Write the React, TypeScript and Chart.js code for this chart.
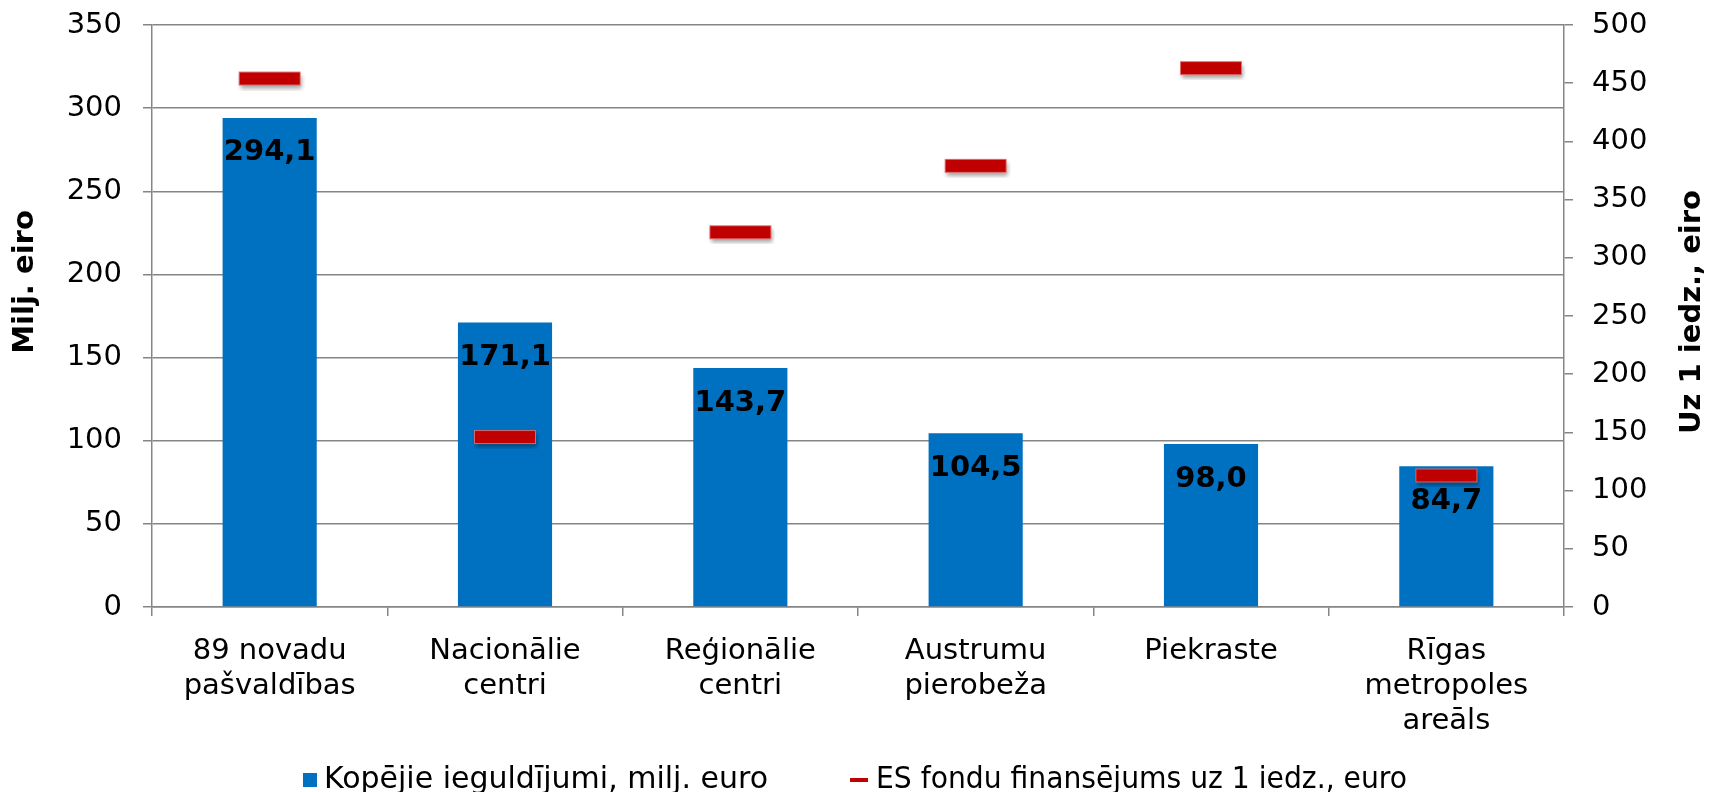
import React, { useEffect, useRef } from 'react';
import { Chart, registerables } from 'chart.js';

Chart.register(...registerables);

const categories: string[][] = [
  ['89 novadu', 'pašvaldības'],
  ['Nacionālie', 'centri'],
  ['Reģionālie', 'centri'],
  ['Austrumu', 'pierobeža'],
  ['Piekraste'],
  ['Rīgas', 'metropoles', 'areāls'],
];
const investments: number[] = [294.1, 171.1, 143.7, 104.5, 98.0, 84.7];
const perCapita: number[] = [454, 146, 322, 379, 463, 113];
const seriesLabels: string[] = ['Kopējie ieguldījumi, milj. euro', 'ES fondu finansējums uz 1 iedz., euro'];
const axisTitles: string[] = ['Milj. eiro', 'Uz 1 iedz., eiro'];
const leftAxis = { min: 0, max: 350, step: 50 };
const rightAxis = { min: 0, max: 500, step: 50 };

const FONT = "'DejaVu Sans', Verdana, sans-serif";
const BLUE = '#0070C0';
const RED = '#C00000';
const GRID = '#858585';

function makeMarker(): HTMLCanvasElement {
  const c = document.createElement('canvas');
  c.width = 70;
  c.height = 24;
  const ctx = c.getContext('2d')!;
  ctx.save();
  ctx.shadowColor = 'rgba(0,0,0,0.35)';
  ctx.shadowBlur = 4;
  ctx.shadowOffsetX = 1;
  ctx.shadowOffsetY = 3;
  ctx.fillStyle = RED;
  ctx.fillRect(4.5, 5.5, 61, 13);
  ctx.restore();
  ctx.strokeStyle = 'rgba(225,110,110,0.9)';
  ctx.lineWidth = 1;
  ctx.strokeRect(4.5, 5.5, 61, 13);
  return c;
}

const fmt = (v: number) => v.toFixed(1).replace('.', ',');

const barLabelPlugin = {
  id: 'barLabels',
  afterDatasetsDraw(chart: any) {
    const ctx = chart.ctx;
    const meta = chart.getDatasetMeta(0);
    ctx.save();
    ctx.font = `bold 29px ${FONT}`;
    ctx.fillStyle = '#000';
    ctx.textAlign = 'center';
    ctx.textBaseline = 'middle';
    meta.data.forEach((el: any, i: number) => {
      ctx.fillText(fmt(investments[i]), el.x, el.y + 35);
    });
    ctx.restore();
  },
};

const decorPlugin = {
  id: 'decor',
  afterDraw(chart: any) {
    const ctx = chart.ctx;
    const area = chart.chartArea;
    const midY = (area.top + area.bottom) / 2;
    ctx.save();
    ctx.fillStyle = '#000';
    ctx.font = `bold 29px ${FONT}`;
    ctx.textAlign = 'center';
    ctx.textBaseline = 'middle';
    // left title
    ctx.save();
    ctx.translate(25, midY - 34);
    ctx.rotate(-Math.PI / 2);
    ctx.fillText(axisTitles[0], 0, 0);
    ctx.restore();
    // right title
    ctx.save();
    ctx.translate(1692, midY - 4);
    ctx.rotate(-Math.PI / 2);
    ctx.fillText(axisTitles[1], 0, 0);
    ctx.restore();

    // legend
    ctx.font = `30px ${FONT}`;
    ctx.textAlign = 'left';
    const w1 = Math.min(ctx.measureText(seriesLabels[0]).width, 445);
    const w2 = Math.min(ctx.measureText(seriesLabels[1]).width, 531);
    const box = 14, gap1 = 7, spacing = 82, dash = 18, gap2 = 8;
    const total = box + gap1 + w1 + spacing + dash + gap2 + w2;
    let x = chart.width / 2 - total / 2;
    const cy = 780;
    ctx.fillStyle = BLUE;
    ctx.fillRect(x, cy - 7, box, box);
    x += box + gap1;
    ctx.fillStyle = '#000';
    ctx.fillText(seriesLabels[0], x, cy, w1);
    x += w1 + spacing;
    ctx.fillStyle = RED;
    ctx.fillRect(x, cy - 2, dash, 4);
    x += dash + gap2;
    ctx.fillStyle = '#000';
    ctx.fillText(seriesLabels[1], x, cy, w2);
    ctx.restore();
  },
};

export default function App() {
  const ref = useRef<HTMLCanvasElement | null>(null);
  useEffect(() => {
    if (!ref.current) return;
    const marker = makeMarker();
    const chart = new Chart(ref.current, {
      type: 'bar',
      data: {
        labels: categories,
        datasets: [
          {
            type: 'bar',
            label: seriesLabels[0],
            data: investments,
            backgroundColor: BLUE,
            yAxisID: 'y',
            barPercentage: 0.4,
            categoryPercentage: 1,
            order: 2,
          },
          {
            type: 'line',
            label: seriesLabels[1],
            data: perCapita,
            yAxisID: 'y1',
            showLine: false,
            pointStyle: marker as any,
            pointRadius: 6,
            pointHoverRadius: 6,
            borderColor: RED,
            backgroundColor: RED,
            order: 1,
          },
        ],
      },
      options: {
        responsive: false,
        animation: false,
        devicePixelRatio: 1,
        layout: { padding: { top: 25, left: 0, right: 0, bottom: 0 } },
        plugins: {
          legend: { display: false },
          tooltip: { enabled: false },
        },
        scales: {
          x: {
            offset: true,
            grid: {
              offset: true,
              drawOnChartArea: false,
              drawTicks: true,
              tickLength: 9,
              color: GRID,
              lineWidth: 1.5,
            },
            border: { display: true, color: GRID, width: 1.5 },
            ticks: {
              color: '#000',
              font: { family: FONT, size: 29, lineHeight: 1.2 },
              padding: 18,
              maxRotation: 0,
              autoSkip: false,
            },
            afterFit: (s: any) => {
              s.height = 185;
              s.paddingLeft = 0;
              s.paddingRight = 0;
            },
          },
          y: {
            position: 'left',
            min: leftAxis.min,
            max: leftAxis.max,
            ticks: {
              stepSize: leftAxis.step,
              color: '#000',
              font: { family: FONT, size: 29 },
              padding: 21,
            },
            grid: { color: GRID, lineWidth: 1.5, tickLength: 9, drawTicks: true },
            border: { display: true, color: GRID, width: 1.5 },
            afterFit: (s: any) => {
              s.width = 152;
              s.paddingTop = 0;
              s.paddingBottom = 0;
            },
          },
          y1: {
            position: 'right',
            min: rightAxis.min,
            max: rightAxis.max,
            ticks: {
              stepSize: rightAxis.step,
              color: '#000',
              font: { family: FONT, size: 29 },
              padding: 19,
            },
            grid: { drawOnChartArea: false, color: GRID, lineWidth: 1.5, tickLength: 9, drawTicks: true },
            border: { display: true, color: GRID, width: 1.5 },
            afterFit: (s: any) => {
              s.width = 146;
              s.paddingTop = 0;
              s.paddingBottom = 0;
            },
          },
        },
      } as any,
      plugins: [barLabelPlugin, decorPlugin],
    });
    return () => chart.destroy();
  }, []);
  return (
    <div style={{ position: 'absolute', left: 0, top: 0, width: 1710, height: 792, background: '#fff' }}>
      <canvas ref={ref} width={1710} height={792} style={{ display: 'block' }} />
    </div>
  );
}
